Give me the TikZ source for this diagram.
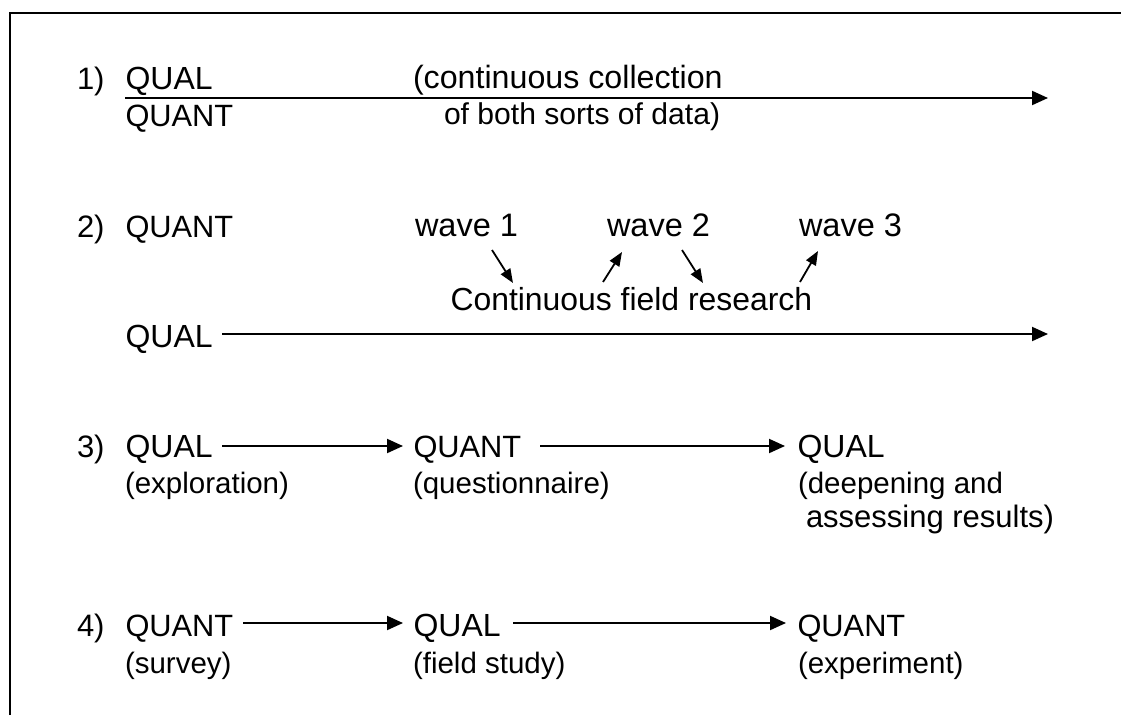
\documentclass[tikz,border=0pt]{standalone}
\usepackage{fontspec}
\setmainfont{Liberation Sans}
\usetikzlibrary{arrows.meta}
\newcommand{\fsz}[1]{\fontsize{#1}{#1}\selectfont}
\begin{document}
\begin{tikzpicture}[x=1pt,y=-1pt,
  lbl/.style={anchor=base west,inner sep=0pt,outer sep=0pt,font=\fsz{31}},
  qual/.style={lbl,font=\fsz{32}},
  quant/.style={lbl,font=\fsz{30.8}},
  note/.style={lbl,font=\fsz{29.5}},
  flow/.style={line width=2pt,-{Triangle[length=16pt,width=14pt]}},
  wavearr/.style={line width=1.8pt,-{Triangle[length=14pt,width=11pt]}},
  frame/.style={line width=2pt}]
\useasboundingbox (0,0) rectangle (1121,715);

% open frame: top and left edges
\draw[frame] (10,715) -- (10,13) -- (1121,13);

% 1) simultaneous collection
\node[lbl]   (n1)  at (77,89)     {1)};
\node[qual]  (q1a) at (125.5,89)  {QUAL};
\node[quant] (q1b) at (125.5,126) {QUANT};
\node[lbl,font=\fsz{32.2}] (c1a) at (413,88)  {(continuous collection};
\node[lbl,font=\fsz{30.1}] (c1b) at (444,124) {of both sorts of data)};
\coordinate (s1) at (125,98);
\coordinate (e1) at (1048,98);
\draw[flow] (s1) -- (e1);

% 2) survey waves around continuous field research
\node[lbl]   (n2)  at (77,237)    {2)};
\node[quant] (q2a) at (125.5,237) {QUANT};
\node[lbl,font=\fsz{32.5}] (w1) at (415,236) {wave 1};
\node[lbl,font=\fsz{32.5}] (w2) at (607,236) {wave 2};
\node[lbl,font=\fsz{32.5}] (w3) at (799,236) {wave 3};
\node[lbl,font=\fsz{31.9}] (cfr) at (450.5,310) {Continuous field research};
\node[qual]  (q2b) at (125.5,347) {QUAL};
\coordinate (r2) at (0,334);
\coordinate (e2) at (1048,334);
\draw[flow] ([xshift=9.5pt]q2b.east |- r2) -- (e2);

\coordinate (a1s) at (492,250); \coordinate (a1e) at (513,283);
\coordinate (a2s) at (603,282); \coordinate (a2e) at (622,252);
\coordinate (a3s) at (682,250); \coordinate (a3e) at (703,283);
\coordinate (a4s) at (800,282); \coordinate (a4e) at (818,251);
\draw[wavearr] (a1s) -- (a1e);
\draw[wavearr] (a2s) -- (a2e);
\draw[wavearr] (a3s) -- (a3e);
\draw[wavearr] (a4s) -- (a4e);

% 3) qual -> quant -> qual
\node[lbl]   (n3)  at (77,457)    {3)};
\node[qual]  (q3a) at (125.5,457) {QUAL};
\node[note]  (d3a) at (125,493)   {(exploration)};
\node[quant] (q3b) at (413.5,457) {QUANT};
\node[note]  (d3b) at (413,493)   {(questionnaire)};
\node[qual]  (q3c) at (797.5,457) {QUAL};
\node[note]  (d3c) at (798,493)   {(deepening and};
\node[lbl]   (d3d) at (806,527)   {assessing results)};
\coordinate (r3) at (0,446);
\draw[flow] ([xshift=9.5pt]q3a.east |- r3) -- ([xshift=-10.5pt]q3b.west |- r3);
\draw[flow] ([xshift=18.7pt]q3b.east |- r3) -- ([xshift=-12.5pt]q3c.west |- r3);

% 4) quant -> qual -> quant
\node[lbl]   (n4)  at (77,636)    {4)};
\node[quant] (q4a) at (125.5,636) {QUANT};
\node[note]  (d4a) at (125,673)   {(survey)};
\node[qual]  (q4b) at (413.5,636) {QUAL};
\node[note]  (d4b) at (413,673)   {(field study)};
\node[quant] (q4c) at (797.5,636) {QUANT};
\node[note]  (d4c) at (798,673)   {(experiment)};
\coordinate (r4) at (0,623);
\draw[flow] ([xshift=9.7pt]q4a.east |- r4) -- ([xshift=-10.5pt]q4b.west |- r4);
\draw[flow] ([xshift=12.4pt]q4b.east |- r4) -- ([xshift=-11.5pt]q4c.west |- r4);
\end{tikzpicture}
\end{document}
